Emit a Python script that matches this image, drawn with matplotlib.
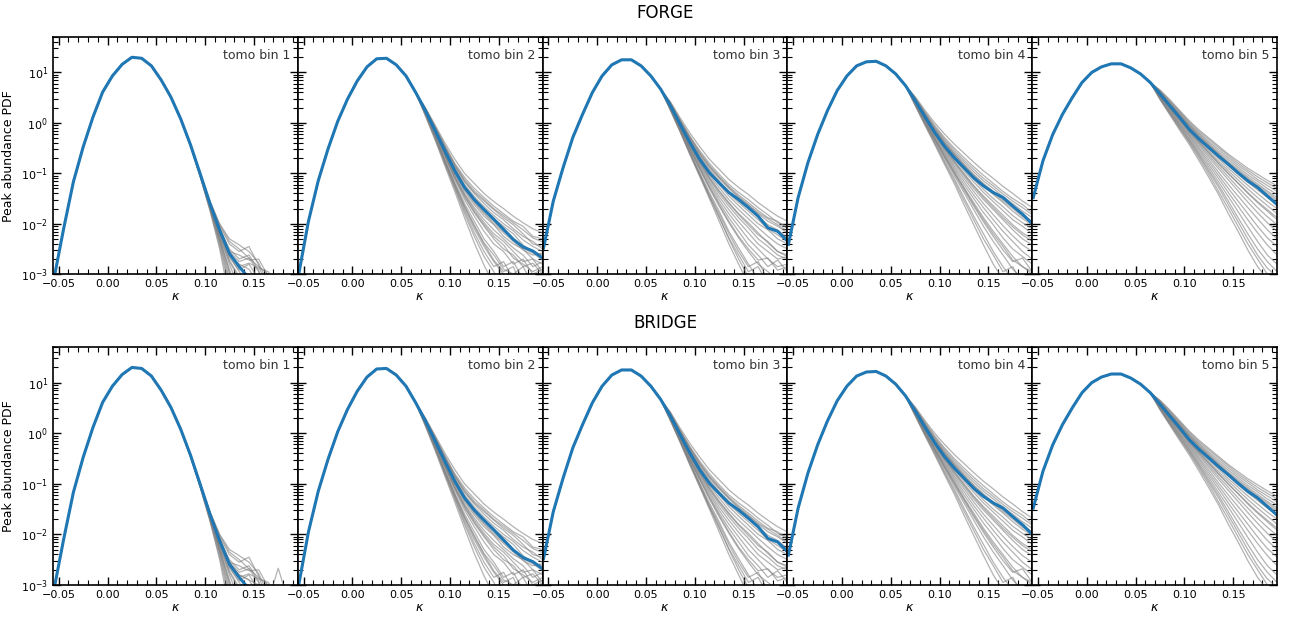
import numpy as np
import matplotlib
matplotlib.use("Agg")
import matplotlib.pyplot as plt
from matplotlib.ticker import MultipleLocator, LogLocator, NullFormatter

# kappa bin centres (shared by every panel)
kappa = np.round(np.arange(-0.055, 0.1951, 0.01), 3)

row_titles = ["FORGE", "BRIDGE"]
bin_labels = ["tomo bin 1", "tomo bin 2", "tomo bin 3", "tomo bin 4", "tomo bin 5"]

# log10 of the mean peak PDF (blue line), one list per tomographic bin
mean_bin1 = [-3.1, -2.1, -1.17, -0.48, 0.11, 0.61, 0.93, 1.16, 1.30, 1.28, 1.13, 0.85, 0.51,
             0.08, -0.43, -1.01, -1.60, -2.13, -2.59, -2.85, -3.08, -3.4, -3.7, -4, -4, -4]
mean_bin2 = [-3.0, -1.95, -1.15, -0.52, 0.03, 0.47, 0.83, 1.11, 1.27, 1.28, 1.15, 0.93, 0.60,
             0.24, -0.16, -0.56, -0.95, -1.28, -1.52, -1.72, -1.91, -2.11, -2.31, -2.46, -2.54, -2.68]
mean_bin3 = [-2.48, -1.55, -0.89, -0.29, 0.17, 0.60, 0.93, 1.15, 1.25, 1.25, 1.13, 0.93, 0.67,
             0.34, -0.03, -0.39, -0.72, -0.99, -1.19, -1.38, -1.52, -1.68, -1.85, -2.08, -2.15, -2.34]
mean_bin4 = [-2.41, -1.48, -0.79, -0.23, 0.24, 0.64, 0.93, 1.13, 1.21, 1.22, 1.13, 0.97, 0.74,
             0.44, 0.12, -0.19, -0.46, -0.69, -0.89, -1.09, -1.25, -1.38, -1.48, -1.65, -1.81, -2.0]
mean_bin5 = [-1.48, -0.75, -0.23, 0.17, 0.50, 0.80, 1.0, 1.11, 1.17, 1.17, 1.09, 0.97, 0.80,
             0.57, 0.34, 0.11, -0.13, -0.32, -0.49, -0.66, -0.82, -0.99, -1.15, -1.28, -1.45, -1.62]

# log10 tails (kappa >= 0.065) of the individual cosmologies (grey lines)
tails_bin1 = [
    [0.51, 0.08, -0.42, -0.99, -1.55, -2.00, -2.30, -2.42, -2.55, -2.78, -3.2, -4, -4, -4],
    [0.51, 0.08, -0.43, -1.00, -1.57, -2.05, -2.40, -2.55, -2.45, -2.82, -3.4, -4, -4, -4],
    [0.51, 0.08, -0.43, -1.01, -1.60, -2.10, -2.50, -2.70, -2.62, -2.92, -4, -4, -4, -4],
    [0.51, 0.08, -0.44, -1.02, -1.62, -2.18, -2.65, -2.95, -3.2, -4, -4, -4, -4, -4],
    [0.51, 0.07, -0.44, -1.03, -1.65, -2.25, -2.80, -3.3, -4, -4, -4, -4, -4, -4],
    [0.50, 0.07, -0.45, -1.04, -1.68, -2.32, -3.0, -4, -4, -4, -4, -4, -4, -4],
    [0.50, 0.07, -0.45, -1.05, -1.70, -2.38, -3.2, -4, -4, -4, -4, -4, -4, -4],
    [0.51, 0.08, -0.43, -1.00, -1.58, -2.08, -2.55, -2.75, -2.68, -2.95, -3.5, -4, -4, -4],
    [0.50, 0.07, -0.44, -1.03, -1.66, -2.28, -2.90, -3.5, -4, -4, -4, -4, -4, -4],
    [0.50, 0.06, -0.46, -1.06, -1.72, -2.45, -3.3, -4, -4, -4, -4, -4, -4, -4],
    [0.51, 0.08, -0.43, -1.01, -1.61, -2.15, -2.60, -2.85, -2.78, -2.88, -2.95, -3.3, -4, -4],
    [0.51, 0.08, -0.44, -1.02, -1.63, -2.20, -2.72, -3.05, -3.4, -4, -4, -4, -4, -4],
    [0.51, 0.08, -0.43, -1.01, -1.59, -2.12, -2.55, -2.62, -2.72, -2.70, -3.05, -4, -4, -4],
    [0.51, 0.08, -0.44, -1.02, -1.64, -2.22, -2.75, -3.1, -4, -4, -4, -4, -4, -4],
    [0.50, 0.07, -0.45, -1.05, -1.69, -2.35, -3.1, -4, -4, -4, -4, -4, -4, -4],
    [0.51, 0.08, -0.43, -1.00, -1.56, -2.02, -2.35, -2.50, -2.68, -2.85, -3.0, -3.6, -4, -4],
    [0.50, 0.07, -0.44, -1.04, -1.67, -2.30, -2.95, -4, -4, -4, -4, -4, -4, -4],
    [0.51, 0.08, -0.43, -1.01, -1.60, -2.12, -2.62, -2.80, -2.90, -3.2, -4, -4, -4, -4],
    [0.50, 0.06, -0.46, -1.07, -1.74, -2.50, -3.5, -4, -4, -4, -4, -4, -4, -4],
    [0.51, 0.08, -0.44, -1.02, -1.62, -2.16, -2.66, -2.92, -2.80, -3.1, -4, -4, -4, -4],
]
tails_bin2 = [
    [0.62, 0.30, -0.05, -0.40, -0.72, -1.00, -1.20, -1.40, -1.56, -1.70, -1.85, -1.98, -2.10, -2.18],
    [0.61, 0.28, -0.08, -0.45, -0.80, -1.08, -1.30, -1.48, -1.65, -1.80, -1.95, -2.05, -2.25, -2.30],
    [0.61, 0.26, -0.11, -0.50, -0.86, -1.17, -1.40, -1.60, -1.78, -1.92, -2.10, -2.25, -2.35, -2.50],
    [0.60, 0.25, -0.14, -0.54, -0.92, -1.25, -1.50, -1.70, -1.90, -2.05, -2.20, -2.42, -2.55, -2.62],
    [0.60, 0.23, -0.18, -0.60, -1.00, -1.35, -1.62, -1.85, -2.02, -2.25, -2.40, -2.50, -2.70, -2.80],
    [0.59, 0.22, -0.20, -0.64, -1.06, -1.42, -1.72, -1.98, -2.20, -2.35, -2.55, -2.75, -2.70, -2.95],
    [0.59, 0.20, -0.23, -0.68, -1.12, -1.52, -1.85, -2.15, -2.40, -2.55, -2.80, -2.70, -3.0, -2.9],
    [0.58, 0.19, -0.26, -0.73, -1.18, -1.60, -1.95, -2.30, -2.55, -2.85, -2.75, -3.1, -3.2, -4],
    [0.58, 0.17, -0.29, -0.78, -1.25, -1.70, -2.10, -2.45, -2.75, -3.0, -3.2, -4, -4, -4],
    [0.57, 0.15, -0.32, -0.82, -1.30, -1.80, -2.25, -2.65, -2.95, -3.3, -4, -4, -4, -4],
    [0.61, 0.27, -0.10, -0.48, -0.84, -1.15, -1.38, -1.55, -1.72, -1.88, -2.02, -2.20, -2.40, -2.45],
    [0.60, 0.22, -0.19, -0.62, -1.04, -1.40, -1.68, -1.92, -2.12, -2.30, -2.48, -2.62, -2.85, -2.75],
    [0.61, 0.27, -0.09, -0.47, -0.83, -1.12, -1.35, -1.52, -1.70, -1.84, -1.98, -2.12, -2.28, -2.36],
    [0.60, 0.24, -0.15, -0.57, -0.96, -1.30, -1.56, -1.78, -1.96, -2.15, -2.30, -2.48, -2.58, -2.72],
    [0.59, 0.21, -0.22, -0.66, -1.09, -1.47, -1.78, -2.05, -2.30, -2.50, -2.62, -2.85, -2.78, -3.0],
    [0.58, 0.18, -0.27, -0.75, -1.21, -1.65, -2.02, -2.38, -2.62, -2.90, -3.0, -2.85, -3.2, -4],
    [0.57, 0.16, -0.31, -0.80, -1.28, -1.75, -2.18, -2.55, -2.85, -2.75, -3.1, -4, -4, -4],
    [0.60, 0.23, -0.16, -0.58, -0.98, -1.32, -1.58, -1.80, -2.00, -2.18, -2.35, -2.52, -2.62, -2.58],
    [0.59, 0.21, -0.21, -0.65, -1.08, -1.45, -1.76, -2.02, -2.25, -2.42, -2.68, -2.80, -2.95, -2.85],
    [0.58, 0.18, -0.28, -0.76, -1.22, -1.66, -2.05, -2.40, -2.72, -2.95, -2.85, -3.3, -4, -4],
    [0.56, 0.13, -0.35, -0.86, -1.36, -1.88, -2.38, -2.82, -3.2, -4, -4, -4, -4, -4],
    [0.61, 0.25, -0.12, -0.52, -0.89, -1.22, -1.46, -1.66, -1.84, -2.00, -2.14, -2.32, -2.45, -2.55],
]
tails_bin3 = [
    [0.70, 0.42, 0.10, -0.20, -0.47, -0.72, -0.92, -1.12, -1.28, -1.42, -1.58, -1.72, -1.85, -1.95],
    [0.69, 0.40, 0.06, -0.26, -0.55, -0.80, -1.02, -1.22, -1.38, -1.52, -1.68, -1.82, -1.98, -2.05],
    [0.68, 0.38, 0.03, -0.31, -0.62, -0.88, -1.10, -1.30, -1.48, -1.63, -1.80, -1.95, -2.05, -2.18],
    [0.68, 0.36, 0.00, -0.35, -0.68, -0.95, -1.18, -1.40, -1.58, -1.75, -1.92, -2.10, -2.22, -2.35],
    [0.67, 0.34, -0.04, -0.40, -0.74, -1.04, -1.28, -1.52, -1.72, -1.90, -2.08, -2.25, -2.40, -2.50],
    [0.67, 0.32, -0.07, -0.45, -0.80, -1.12, -1.40, -1.65, -1.88, -2.08, -2.30, -2.45, -2.62, -2.70],
    [0.66, 0.31, -0.09, -0.49, -0.86, -1.20, -1.52, -1.80, -2.05, -2.30, -2.50, -2.70, -2.85, -2.80],
    [0.66, 0.29, -0.12, -0.53, -0.92, -1.30, -1.65, -1.98, -2.28, -2.55, -2.80, -2.95, -3.1, -3.3],
    [0.65, 0.28, -0.14, -0.57, -0.98, -1.38, -1.75, -2.15, -2.48, -2.80, -3.1, -3.3, -4, -4],
    [0.65, 0.26, -0.16, -0.60, -1.02, -1.45, -1.85, -2.30, -2.70, -3.05, -3.4, -4, -4, -4],
    [0.69, 0.39, 0.04, -0.29, -0.60, -0.86, -1.08, -1.28, -1.46, -1.62, -1.78, -1.90, -2.02, -2.15],
    [0.67, 0.33, -0.05, -0.42, -0.77, -1.08, -1.34, -1.58, -1.80, -1.98, -2.18, -2.38, -2.55, -2.65],
    [0.69, 0.40, 0.05, -0.28, -0.58, -0.84, -1.06, -1.26, -1.43, -1.58, -1.74, -1.88, -1.95, -2.10],
    [0.68, 0.37, 0.01, -0.33, -0.65, -0.92, -1.15, -1.36, -1.54, -1.70, -1.86, -2.02, -2.12, -2.28],
    [0.67, 0.33, -0.06, -0.43, -0.78, -1.09, -1.36, -1.60, -1.82, -2.02, -2.22, -2.35, -2.55, -2.62],
    [0.66, 0.30, -0.10, -0.51, -0.89, -1.25, -1.58, -1.88, -2.15, -2.42, -2.62, -2.85, -2.72, -2.95],
    [0.65, 0.27, -0.15, -0.58, -1.00, -1.42, -1.80, -2.20, -2.55, -2.85, -2.75, -3.1, -3.0, -3.3],
    [0.64, 0.25, -0.18, -0.63, -1.06, -1.50, -1.95, -2.40, -2.80, -3.2, -4, -4, -4, -4],
    [0.68, 0.36, -0.01, -0.36, -0.69, -0.98, -1.22, -1.45, -1.64, -1.82, -2.00, -2.12, -2.30, -2.40],
    [0.66, 0.31, -0.08, -0.47, -0.83, -1.16, -1.46, -1.72, -1.96, -2.18, -2.40, -2.55, -2.70, -2.65],
    [0.65, 0.29, -0.11, -0.52, -0.90, -1.27, -1.62, -1.95, -2.25, -2.50, -2.72, -2.68, -2.92, -2.85],
    [0.64, 0.26, -0.17, -0.61, -1.04, -1.46, -1.88, -2.28, -2.62, -2.95, -2.85, -3.2, -3.5, -4],
]
tails_bin4 = [
    [0.78, 0.52, 0.25, 0.00, -0.22, -0.42, -0.60, -0.78, -0.95, -1.10, -1.26, -1.40, -1.55, -1.68],
    [0.77, 0.50, 0.22, -0.05, -0.29, -0.50, -0.69, -0.87, -1.04, -1.20, -1.36, -1.50, -1.62, -1.78],
    [0.76, 0.48, 0.18, -0.10, -0.35, -0.58, -0.78, -0.97, -1.15, -1.30, -1.46, -1.60, -1.75, -1.88],
    [0.75, 0.46, 0.15, -0.15, -0.41, -0.64, -0.86, -1.06, -1.25, -1.42, -1.58, -1.75, -1.90, -2.02],
    [0.74, 0.44, 0.12, -0.19, -0.47, -0.72, -0.95, -1.17, -1.38, -1.56, -1.74, -1.92, -2.05, -2.20],
    [0.74, 0.42, 0.09, -0.23, -0.52, -0.80, -1.05, -1.30, -1.52, -1.72, -1.92, -2.12, -2.30, -2.42],
    [0.73, 0.41, 0.06, -0.27, -0.58, -0.88, -1.16, -1.43, -1.68, -1.92, -2.15, -2.35, -2.55, -2.70],
    [0.72, 0.39, 0.03, -0.31, -0.64, -0.96, -1.28, -1.58, -1.88, -2.15, -2.40, -2.65, -2.85, -2.95],
    [0.72, 0.37, 0.00, -0.35, -0.70, -1.04, -1.38, -1.72, -2.05, -2.35, -2.62, -2.90, -3.1, -3.3],
    [0.71, 0.36, -0.02, -0.38, -0.75, -1.10, -1.48, -1.85, -2.20, -2.55, -2.85, -3.1, -3.4, -4],
    [0.76, 0.47, 0.17, -0.12, -0.38, -0.61, -0.82, -1.02, -1.20, -1.36, -1.52, -1.66, -1.82, -1.95],
    [0.73, 0.43, 0.10, -0.21, -0.50, -0.76, -1.00, -1.24, -1.45, -1.64, -1.83, -2.02, -2.18, -2.30],
    [0.77, 0.49, 0.20, -0.08, -0.32, -0.54, -0.74, -0.92, -1.10, -1.25, -1.41, -1.55, -1.68, -1.82],
    [0.75, 0.45, 0.13, -0.17, -0.44, -0.68, -0.90, -1.12, -1.32, -1.50, -1.66, -1.84, -1.98, -2.10],
    [0.74, 0.43, 0.10, -0.21, -0.50, -0.77, -1.02, -1.26, -1.48, -1.68, -1.88, -2.06, -2.22, -2.35],
    [0.73, 0.40, 0.05, -0.29, -0.61, -0.92, -1.22, -1.50, -1.78, -2.02, -2.28, -2.50, -2.65, -2.80],
    [0.72, 0.38, 0.01, -0.33, -0.67, -1.00, -1.33, -1.65, -1.96, -2.25, -2.52, -2.75, -2.68, -2.95],
    [0.71, 0.35, -0.03, -0.40, -0.78, -1.15, -1.54, -1.92, -2.30, -2.62, -2.95, -2.85, -3.2, -3.5],
    [0.76, 0.47, 0.16, -0.13, -0.39, -0.62, -0.84, -1.04, -1.22, -1.39, -1.55, -1.70, -1.86, -1.98],
    [0.73, 0.42, 0.08, -0.24, -0.55, -0.84, -1.10, -1.36, -1.60, -1.82, -2.04, -2.24, -2.42, -2.55],
    [0.72, 0.38, 0.02, -0.32, -0.66, -0.98, -1.30, -1.62, -1.92, -2.20, -2.45, -2.72, -2.85, -3.0],
    [0.70, 0.34, -0.05, -0.43, -0.82, -1.20, -1.62, -2.02, -2.42, -2.80, -3.1, -3.4, -4, -4],
]
tails_bin5 = [
    [0.84, 0.65, 0.46, 0.25, 0.04, -0.14, -0.30, -0.46, -0.62, -0.76, -0.90, -1.02, -1.14, -1.25],
    [0.83, 0.63, 0.42, 0.21, -0.01, -0.20, -0.37, -0.53, -0.69, -0.84, -0.98, -1.12, -1.24, -1.36],
    [0.82, 0.61, 0.39, 0.17, -0.05, -0.25, -0.43, -0.60, -0.77, -0.92, -1.07, -1.21, -1.35, -1.48],
    [0.81, 0.59, 0.36, 0.13, -0.10, -0.30, -0.49, -0.67, -0.85, -1.02, -1.18, -1.33, -1.48, -1.62],
    [0.80, 0.57, 0.33, 0.09, -0.14, -0.36, -0.56, -0.76, -0.95, -1.13, -1.31, -1.48, -1.64, -1.80],
    [0.79, 0.55, 0.30, 0.05, -0.19, -0.42, -0.64, -0.86, -1.07, -1.28, -1.48, -1.68, -1.86, -2.02],
    [0.78, 0.53, 0.27, 0.01, -0.24, -0.49, -0.73, -0.98, -1.22, -1.45, -1.68, -1.90, -2.12, -2.30],
    [0.77, 0.51, 0.24, -0.03, -0.29, -0.56, -0.83, -1.10, -1.38, -1.65, -1.92, -2.18, -2.42, -2.62],
    [0.76, 0.49, 0.21, -0.07, -0.34, -0.63, -0.93, -1.23, -1.55, -1.88, -2.20, -2.50, -2.75, -2.95],
    [0.75, 0.47, 0.18, -0.11, -0.39, -0.70, -1.02, -1.36, -1.70, -2.05, -2.40, -2.70, -3.0, -3.2],
    [0.82, 0.62, 0.40, 0.19, -0.03, -0.22, -0.40, -0.57, -0.73, -0.88, -1.03, -1.16, -1.30, -1.42],
    [0.79, 0.56, 0.31, 0.07, -0.17, -0.39, -0.60, -0.81, -1.01, -1.20, -1.40, -1.58, -1.75, -1.92],
    [0.83, 0.64, 0.44, 0.23, 0.02, -0.17, -0.33, -0.49, -0.65, -0.80, -0.94, -1.07, -1.19, -1.30],
    [0.81, 0.60, 0.37, 0.15, -0.08, -0.28, -0.46, -0.64, -0.81, -0.97, -1.12, -1.27, -1.42, -1.55],
    [0.80, 0.58, 0.34, 0.11, -0.12, -0.33, -0.52, -0.71, -0.90, -1.07, -1.24, -1.40, -1.56, -1.70],
    [0.79, 0.55, 0.29, 0.04, -0.21, -0.45, -0.68, -0.91, -1.13, -1.35, -1.57, -1.78, -1.98, -2.15],
    [0.78, 0.52, 0.26, -0.01, -0.26, -0.52, -0.78, -1.04, -1.30, -1.55, -1.80, -2.05, -2.28, -2.45],
    [0.77, 0.50, 0.22, -0.05, -0.32, -0.60, -0.88, -1.17, -1.46, -1.76, -2.06, -2.35, -2.62, -2.80],
    [0.75, 0.46, 0.16, -0.14, -0.43, -0.75, -1.08, -1.42, -1.80, -2.15, -2.52, -2.85, -3.1, -3.4],
    [0.82, 0.61, 0.38, 0.16, -0.06, -0.26, -0.44, -0.62, -0.79, -0.95, -1.10, -1.24, -1.38, -1.52],
    [0.80, 0.57, 0.32, 0.08, -0.16, -0.38, -0.59, -0.80, -1.00, -1.19, -1.38, -1.56, -1.72, -1.88],
    [0.76, 0.48, 0.19, -0.09, -0.37, -0.66, -0.97, -1.28, -1.62, -1.96, -2.30, -2.62, -2.88, -3.05],
]
# the one extra noisy BRIDGE curve in bin 1 (spike near kappa = 0.175)
bridge_extra_bin1 = [0.51, 0.08, -0.43, -1.00, -1.58, -2.10, -2.55, -2.80, -2.90, -3.0, -3.3, -2.67, -3.3, -4]

means = [mean_bin1, mean_bin2, mean_bin3, mean_bin4, mean_bin5]
tails = [tails_bin1, tails_bin2, tails_bin3, tails_bin4, tails_bin5]

fig = plt.figure(figsize=(12.9, 6.19), dpi=100)
row_boxes = [(0.557, 0.940), (0.055, 0.439)]
left, right = 0.041, 0.990
width = (right - left) / 5

for r, (bottom, top) in enumerate(row_boxes):
    fig.text((left + right) / 2, top + 0.025, row_titles[r], ha='center', va='bottom', fontsize=12)
    for b in range(5):
        ax = fig.add_axes([left + b * width, bottom, width, top - bottom])
        core = means[b][:13]
        curves = list(tails[b])
        if r == 1 and b == 0:
            curves = curves + [bridge_extra_bin1]
        for t in curves:
            y = np.concatenate([core, t[1:]])
            ax.plot(kappa, 10 ** y, color='grey', alpha=0.6, lw=0.9)
        ax.plot(kappa, 10 ** np.array(means[b]), color='#1f77b4', lw=2.2)

        ax.set_yscale('log')
        ax.set_ylim(1e-3, 50)
        ax.set_xlim(-0.056, 0.195)
        ax.xaxis.set_major_locator(MultipleLocator(0.05))
        ax.xaxis.set_minor_locator(MultipleLocator(0.01))
        ax.yaxis.set_major_locator(LogLocator(base=10, numticks=10))
        ax.yaxis.set_minor_locator(LogLocator(base=10, subs=np.arange(2, 10), numticks=10))
        ax.yaxis.set_minor_formatter(NullFormatter())
        ax.tick_params(which='both', direction='in', top=True, right=True, labelsize=8)
        ax.tick_params(which='major', length=6, width=1)
        ax.tick_params(which='minor', length=3.5, width=0.8)
        for s in ax.spines.values():
            s.set_linewidth(1.2)
        ax.set_xticks([-0.05, 0.0, 0.05, 0.10, 0.15])
        ax.set_xticklabels(['−0.05', '0.00', '0.05', '0.10', '0.15'])
        ax.set_xlabel(r'$\kappa$', fontsize=9, labelpad=1)
        if b == 0:
            ax.set_ylabel('Peak abundance PDF', fontsize=9)
        else:
            ax.tick_params(labelleft=False)
        ax.text(0.97, 0.95, bin_labels[b], transform=ax.transAxes, ha='right', va='top',
                fontsize=9, color='#333333')

fig.savefig('out.png', dpi=100)
